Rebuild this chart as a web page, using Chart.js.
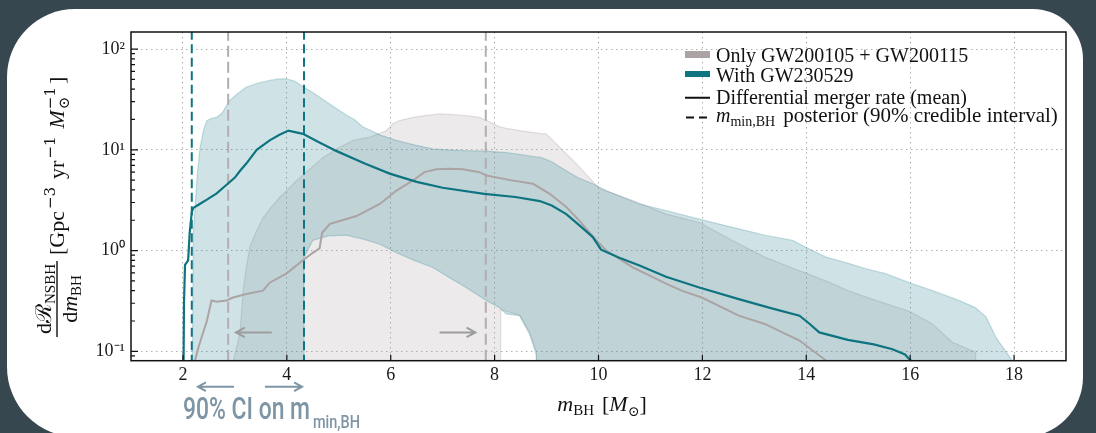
<!DOCTYPE html>
<html>
<head>
<meta charset="utf-8">
<script src="https://cdn.jsdelivr.net/npm/chart.js@4.4.1/dist/chart.umd.min.js"></script>
<style>
  html, body { margin:0; padding:0; width:1096px; height:433px; overflow:hidden; background:#37474f; }
  #card { position:absolute; left:7px; top:9px; width:1076px; height:428px; background:#ffffff; border-radius:68px 50px 60px 70px; }
  #wrap { position:absolute; left:0; top:0; width:1096px; height:433px; }
  canvas { display:block; }
</style>
</head>
<body>
<div id="card"></div>
<div id="wrap"><canvas id="chart" width="1096" height="433"></canvas></div>
<script>
// ---------------- data ----------------
const tealBandX = [2.17, 2.20, 2.28, 2.33, 2.40, 2.46, 2.55, 2.65, 2.75, 2.90, 3.05, 3.22, 3.45, 3.67, 3.85, 3.99, 4.15, 4.32, 4.33, 4.50, 4.80, 5.15, 5.30, 5.47, 5.80, 6.11, 6.45, 6.81, 7.10, 7.45, 7.84, 8.10, 8.22, 8.48, 8.67, 8.80, 8.88, 9.10, 9.38, 9.60, 9.89, 10.15, 10.45, 10.79, 11.30, 11.94, 12.58, 13.23, 13.74, 13.99, 14.38, 14.80, 15.15, 15.53, 15.98, 16.43, 16.94, 17.26, 17.46, 17.65, 17.84, 17.97, 18.00];
const tealBandUpper = [0.01, 1.5, 6, 10.6, 16, 19.5, 20.5, 21, 23, 30.9, 36, 42, 46, 48.8, 50.5, 50.7, 48, 42, 42, 37, 29, 22, 20, 16.8, 14, 12.4, 11.2, 10.2, 10.0, 9.8, 9.7, 9.5, 9.4, 9.0, 8.7, 8.5, 8.45, 7.6, 6.2, 5.3, 4.6, 3.94, 3.4, 2.9, 2.5, 2.05, 1.70, 1.41, 1.26, 1.08, 0.86, 0.75, 0.66, 0.59, 0.48, 0.40, 0.32, 0.27, 0.22, 0.138, 0.10, 0.08, 0.005];
const tealBandLower = [0.005, 0.005, 0.005, 0.005, 0.005, 0.005, 0.005, 0.005, 0.005, 0.005, 0.005, 0.005, 0.005, 0.005, 0.005, 0.005, 0.005, 0.005, 0.86, 1.26, 1.4, 1.42, 1.36, 1.3, 1.15, 0.95, 0.8, 0.68, 0.55, 0.43, 0.32, 0.27, 0.235, 0.226, 0.149, 0.094, 0.005, 0.005, 0.005, 0.005, 0.005, 0.005, 0.005, 0.005, 0.005, 0.005, 0.005, 0.005, 0.005, 0.005, 0.005, 0.005, 0.005, 0.005, 0.005, 0.005, 0.005, 0.005, 0.005, 0.005, 0.005, 0.005, 0.005];

const grayBandX = [2.94, 2.97, 3.05, 3.10, 3.16, 3.22, 3.29, 3.40, 3.54, 3.70, 3.87, 4.03, 4.19, 4.45, 4.70, 5.00, 5.28, 5.60, 5.92, 6.04, 6.17, 6.43, 6.70, 6.94, 7.20, 7.45, 7.71, 7.90, 8.10, 8.12, 8.22, 8.48, 8.67, 8.80, 8.89, 8.99, 9.25, 9.57, 10.02, 10.66, 11.30, 11.94, 12.58, 13.20, 13.87, 14.38, 14.80, 15.34, 15.98, 16.43, 16.81, 17.26, 17.29];
const grayBandUpper = [0.005, 0.08, 0.12, 0.16, 0.4, 0.68, 1.1, 1.5, 2.1, 2.7, 3.4, 4.1, 4.96, 6.5, 8.4, 10.5, 12.4, 13.4, 15.5, 18.1, 19.5, 21, 22, 22.7, 22.3, 21.8, 21, 19, 16.8, 16.8, 16.3, 15.5, 15, 14.7, 14.5, 14.4, 10.6, 7.3, 4.1, 3.14, 2.3, 1.9, 1.26, 0.86, 0.63, 0.5, 0.4, 0.32, 0.25, 0.187, 0.123, 0.098, 0.005];
const grayBandLower = [0.005, 0.005, 0.005, 0.005, 0.005, 0.005, 0.005, 0.005, 0.005, 0.005, 0.005, 0.005, 0.005, 0.005, 0.005, 0.005, 0.005, 0.005, 0.005, 0.005, 0.005, 0.005, 0.005, 0.005, 0.005, 0.005, 0.005, 0.005, 0.005, 0.26, 0.25, 0.23, 0.155, 0.1, 0.005, 0.005, 0.005, 0.005, 0.005, 0.005, 0.005, 0.005, 0.005, 0.005, 0.005, 0.005, 0.005, 0.005, 0.005, 0.005, 0.005, 0.005, 0.005];

const tealMeanX = [2.00, 2.02, 2.04, 2.10, 2.13, 2.17, 2.20, 2.30, 2.46, 2.65, 2.84, 3.00, 3.10, 3.22, 3.42, 3.67, 3.85, 4.03, 4.31, 4.60, 4.96, 5.50, 5.98, 6.50, 7.00, 7.80, 8.40, 8.87, 9.10, 9.38, 9.65, 9.89, 10.05, 10.40, 10.79, 11.30, 11.94, 12.70, 13.30, 13.87, 14.05, 14.25, 14.80, 15.30, 15.66, 15.90, 15.98, 16.30];
const tealMeanY = [0.01, 0.3, 0.72, 0.8, 1.5, 2.4, 2.65, 2.85, 3.2, 3.7, 4.5, 5.3, 6.2, 7.3, 10, 12.4, 14, 15.5, 14.4, 12, 9.7, 7.3, 5.8, 4.8, 4.2, 3.65, 3.4, 3.1, 2.8, 2.3, 1.75, 1.36, 1.02, 0.85, 0.71, 0.55, 0.43, 0.33, 0.27, 0.226, 0.19, 0.154, 0.13, 0.117, 0.105, 0.093, 0.084, 0.06];

const grayMeanX = [2.20, 2.30, 2.40, 2.46, 2.55, 2.65, 2.84, 2.95, 3.22, 3.54, 3.67, 3.99, 4.31, 4.50, 4.63, 4.68, 4.83, 5.00, 5.34, 5.79, 6.11, 6.43, 6.65, 6.88, 7.13, 7.39, 7.71, 7.84, 8.30, 8.74, 9.06, 9.38, 9.63, 9.96, 10.15, 10.66, 11.30, 11.60, 12.00, 12.70, 13.20, 13.87, 14.38, 14.50];
const grayMeanY = [0.07, 0.11, 0.16, 0.2, 0.32, 0.31, 0.32, 0.34, 0.37, 0.40, 0.48, 0.59, 0.8, 0.95, 1.05, 1.5, 1.84, 1.95, 2.2, 2.9, 3.94, 4.96, 6.0, 6.4, 6.47, 6.4, 6.0, 5.55, 5.0, 4.6, 3.66, 2.7, 1.98, 1.26, 1.0, 0.68, 0.47, 0.4, 0.34, 0.226, 0.187, 0.128, 0.081, 0.06];

const tealCI = [2.17, 4.33];
const grayCI = [2.87, 7.83];

const xTicks = [2, 4, 6, 8, 10, 12, 14, 16, 18];
const yTicks = [0.1, 1, 10, 100];
const yTickLabels = ['10\u207B\u00B9', '10\u2070', '10\u00B9', '10\u00B2'];

const legendLabels = ['Only GW200105 + GW200115', 'With GW230529', 'Differential merger rate (mean)', 'posterior (90% credible interval)'];
const annoText = '90% CI on m';
const annoSub = 'min,BH';

// ---------------- styling ----------------
const TEAL = '#0e7480';
const GRAY = '#aca3a5';
const ANNO = '#7d95a4';
const SERIF = '"Liberation Serif","DejaVu Serif",serif';
const SUPF = '15px "DejaVu Serif"';
const fnt = (size, style) => (style ? style + ' ' : '') + size + 'px ' + SERIF;

const pts = (xs, ys) => xs.map((x, i) => ({ x: x, y: ys[i] }));
const vline = v => [{ x: v, y: 0.001 }, { x: v, y: 10000 }];

function drawRuns(ctx, parts, x, y, dry) {
  let cx = x;
  for (const p of parts) {
    if (p.gap) { cx += p.gap; continue; }
    ctx.font = p.f;
    const w = ctx.measureText(p.t).width;
    if (!dry) ctx.fillText(p.t, cx, y + (p.dy || 0));
    if (!p.keep) cx += w;
  }
  return cx - x;
}

function arrow(ctx, x1, y1, x2, y2, head, color, lw) {
  ctx.strokeStyle = color; ctx.lineWidth = lw; ctx.setLineDash([]);
  const ang = Math.atan2(y2 - y1, x2 - x1);
  ctx.beginPath();
  ctx.moveTo(x1, y1); ctx.lineTo(x2, y2);
  ctx.moveTo(x2 - head * Math.cos(ang - 0.5), y2 - head * Math.sin(ang - 0.5));
  ctx.lineTo(x2, y2);
  ctx.lineTo(x2 - head * Math.cos(ang + 0.5), y2 - head * Math.sin(ang + 0.5));
  ctx.stroke();
}

const decor = {
  id: 'decor',
  afterDatasetsDraw(chart) {
    const ctx = chart.ctx, a = chart.chartArea, xs = chart.scales.x, ys = chart.scales.y;
    ctx.save();
    // arrows inside plot (gray CI)
    const ay = ys.getPixelForValue(0.154);
    arrow(ctx, xs.getPixelForValue(3.71), ay, xs.getPixelForValue(3.02), ay, 10, '#9d9d9d', 2);
    arrow(ctx, xs.getPixelForValue(6.94), ay, xs.getPixelForValue(7.63), ay, 10, '#9d9d9d', 2);
    // frame
    ctx.setLineDash([]);
    ctx.strokeStyle = '#111'; ctx.lineWidth = 1.5;
    ctx.strokeRect(a.left, a.top, a.right - a.left, a.bottom - a.top);
    // inward ticks
    ctx.lineWidth = 1.2;
    ctx.beginPath();
    for (const v of yTicks) { const p = ys.getPixelForValue(v); ctx.moveTo(a.left, p); ctx.lineTo(a.left + 7, p); }
    for (let k = -2; k <= 2; k++) {
      for (let m = 2; m <= 9; m++) {
        const v = m * Math.pow(10, k);
        if (v > ys.min && v < ys.max) { const p = ys.getPixelForValue(v); ctx.moveTo(a.left, p); ctx.lineTo(a.left + 4, p); }
      }
    }
    for (const v of xTicks) { const p = xs.getPixelForValue(v); ctx.moveTo(p, a.bottom); ctx.lineTo(p, a.bottom - 6); }
    ctx.stroke();
    ctx.restore();
  },
  afterDraw(chart) {
    const ctx = chart.ctx;
    ctx.save();
    ctx.textAlign = 'left'; ctx.textBaseline = 'alphabetic';
    // ---- legend ----
    ctx.fillStyle = GRAY; ctx.fillRect(685, 51, 25, 7);
    ctx.fillStyle = TEAL; ctx.fillRect(685, 71, 25, 6);
    ctx.fillStyle = '#111';
    ctx.font = fnt(20);
    ctx.fillText(legendLabels[0], 716, 61.5);
    ctx.fillText(legendLabels[1], 716, 81.5);
    ctx.fillText(legendLabels[2], 716, 104);
    ctx.strokeStyle = '#111'; ctx.lineWidth = 2;
    ctx.beginPath(); ctx.moveTo(685, 97.7); ctx.lineTo(710, 97.7);
    ctx.moveTo(686, 117.5); ctx.lineTo(694, 117.5); ctx.moveTo(699, 117.5); ctx.lineTo(707, 117.5);
    ctx.stroke();
    drawRuns(ctx, [{ t: 'm', f: fnt(20, 'italic') }, { t: 'min,BH', f: fnt(14), dy: 4 }, { gap: 8 }, { t: legendLabels[3], f: fnt(21) }], 716, 122.3);

    // ---- x axis title ----
    const xParts = [{ t: 'm', f: fnt(22, 'italic') }, { t: 'BH', f: fnt(15), dy: 4 }, { gap: 8 }, { t: '[', f: fnt(22) },
      { t: 'M', f: fnt(22, 'italic') }, { t: '\u2299', f: fnt(14), dy: 5 }, { t: ']', f: fnt(22) }];
    const xw = drawRuns(ctx, xParts, 0, 0, true);
    drawRuns(ctx, xParts, 602 - xw / 2, 411);

    // ---- y axis title (rotated) ----
    ctx.save();
    ctx.translate(57, 299);
    ctx.rotate(-Math.PI / 2);
    const num = [{ t: 'd', f: fnt(22) }, { t: '\u211B', f: fnt(22) }, { t: 'NSBH', f: fnt(15), dy: 4 }];
    const den = [{ t: 'd', f: fnt(22) }, { t: 'm', f: fnt(22, 'italic') }, { t: 'BH', f: fnt(15), dy: 4 }];
    const nw = drawRuns(ctx, num, 0, 0, true), dw = drawRuns(ctx, den, 0, 0, true);
    const W = Math.max(nw, dw) + 6;
    drawRuns(ctx, num, -nw / 2, -6);
    drawRuns(ctx, den, -dw / 2, 20);
    ctx.fillRect(-W / 2, -0.7, W, 1.4);
    const br = [{ t: '[Gpc', f: fnt(22) }, { gap: 2 }, { t: '\u22123', f: SUPF, dy: -9 }, { gap: 8 }, { t: 'yr', f: fnt(22) },
      { gap: 2 }, { t: '\u22121', f: SUPF, dy: -9 }, { gap: 8 }, { t: 'M', f: fnt(22, 'italic') }, { gap: 1 }, { t: '\u2299', f: fnt(15), dy: 5, keep: true },
      { t: '\u22121', f: SUPF, dy: -9 }, { gap: 3 }, { t: ']', f: fnt(22) }];
    drawRuns(ctx, br, W / 2 + 6, 7);
    ctx.restore();

    // ---- annotation below axis ----
    arrow(ctx, 234, 386.7, 198, 386.7, 9, ANNO, 2);
    arrow(ctx, 265, 386.7, 302, 386.7, 9, ANNO, 2);
    ctx.fillStyle = ANNO;
    ctx.save();
    ctx.font = '500 31px Roboto';
    const w1 = ctx.measureText(annoText).width;
    ctx.translate(183, 419); ctx.scale(127 / w1, 1);
    ctx.fillText(annoText, 0, 0);
    ctx.restore();
    ctx.save();
    ctx.font = '500 18px Roboto';
    const w2 = ctx.measureText(annoSub).width;
    ctx.translate(313, 428); ctx.scale(47 / w2, 1);
    ctx.fillText(annoSub, 0, 0);
    ctx.restore();

    ctx.restore();
  }
};

const datasets = [
  { data: pts(tealMeanX, tealMeanY), borderColor: TEAL, borderWidth: 2.2, fill: false },
  { data: pts(grayMeanX, grayMeanY), borderColor: GRAY, borderWidth: 2, fill: false },
  ...tealCI.map(v => ({ data: vline(v), borderColor: TEAL, borderWidth: 2, borderDash: [9, 4.5], fill: false })),
  ...grayCI.map(v => ({ data: vline(v), borderColor: '#b3adaf', borderWidth: 2, borderDash: [11, 5], fill: false })),
  { data: pts(tealBandX, tealBandUpper), borderColor: 'rgba(15,116,128,0.22)', borderWidth: 1.2, backgroundColor: 'rgba(15,116,128,0.2)', fill: '+1' },
  { data: pts(tealBandX, tealBandLower), borderColor: 'rgba(15,116,128,0.22)', borderWidth: 1.2, fill: false },
  { data: pts(grayBandX, grayBandUpper), borderColor: 'rgba(170,160,162,0.3)', borderWidth: 1.2, backgroundColor: 'rgba(170,160,162,0.22)', fill: '+1' },
  { data: pts(grayBandX, grayBandLower), borderColor: 'rgba(170,160,162,0.3)', borderWidth: 1.2, fill: false }
];

new Chart(document.getElementById('chart'), {
  type: 'line',
  data: { datasets: datasets },
  options: {
    responsive: false,
    animation: false,
    devicePixelRatio: 1,
    layout: { padding: { left: 0, top: 32, right: 30, bottom: 0 } },
    elements: { point: { radius: 0 }, line: { tension: 0 } },
    plugins: { legend: { display: false }, tooltip: { enabled: false } },
    scales: {
      x: {
        type: 'linear', min: 1, max: 19,
        afterBuildTicks: s => { s.ticks = xTicks.map(v => ({ value: v })); },
        afterFit: s => { s.height = 72.3; },
        grid: { color: '#b0b0b0', lineWidth: 1, drawTicks: false },
        border: { display: false, dash: [1.5, 3.5] },
        ticks: { autoSkip: false, maxRotation: 0, padding: 4, color: '#1a1a1a', font: { family: 'Liberation Serif', size: 18 } }
      },
      y: {
        type: 'logarithmic', min: 0.0807, max: 147.6,
        afterBuildTicks: s => { s.ticks = yTicks.map(v => ({ value: v })); },
        afterFit: s => { s.width = 131; },
        grid: { color: '#b0b0b0', lineWidth: 1, drawTicks: false },
        border: { display: false, dash: [1.5, 3.5] },
        ticks: { autoSkip: false, padding: 6, color: '#1a1a1a', font: { family: 'Liberation Serif', size: 18 },
          callback: v => { const i = yTicks.indexOf(v); return i >= 0 ? yTickLabels[i] : ''; } }
      }
    }
  },
  plugins: [decor]
});
</script>
</body>
</html>
